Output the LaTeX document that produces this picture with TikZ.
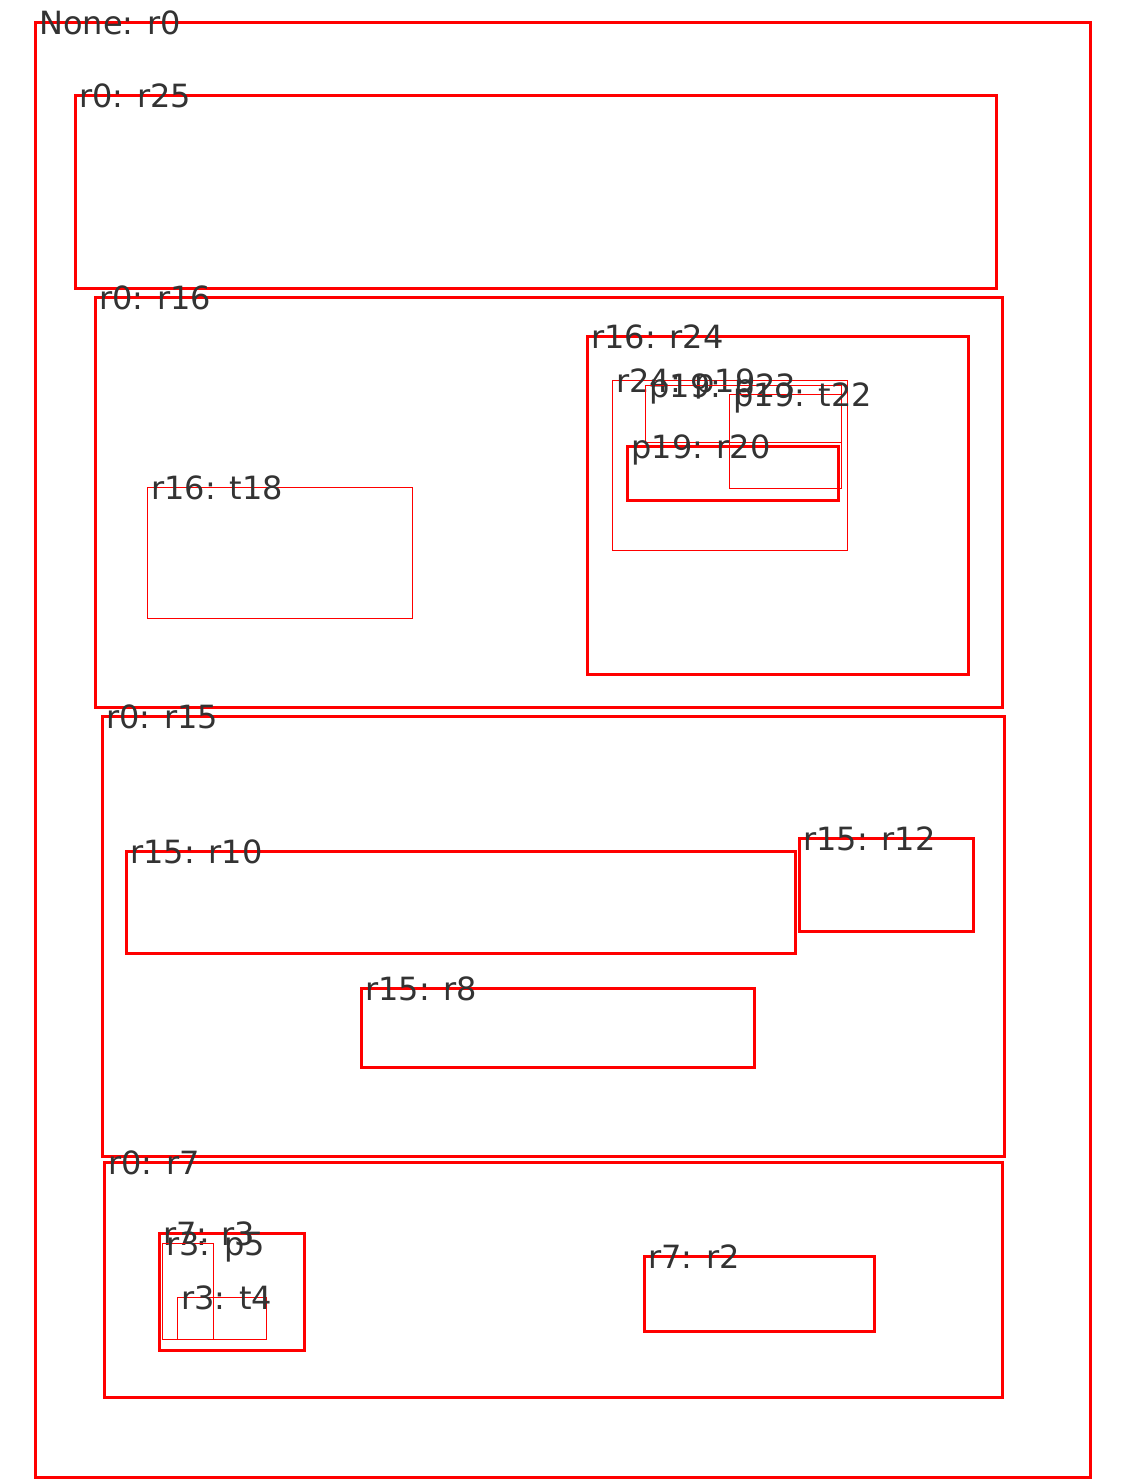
\documentclass[tikz,border=0pt]{standalone}
\usepackage{fontspec}
\setmainfont{DejaVu Sans}
\definecolor{boxred}{RGB}{255,0,0}
\definecolor{inkgray}{RGB}{51,51,51}
\tikzset{
  region/.style={draw=boxred, line width=1.5pt},
  leaf/.style={draw=boxred, line width=0.45pt},
  lbl/.style={anchor=base west, inner sep=0pt, text=inkgray,
              font=\fontsize{16}{18}\selectfont},
}
% \regionbox[style]{left}{top}{right}{bottom}{label}
\newcommand{\regionbox}[6][region]{%
  \draw[#1] (#2,#3) rectangle (#4,#5);
  \node[lbl] at ({#2+4},{#3+12}) {#6};
}
\begin{document}
\begin{tikzpicture}[x=0.5pt, y=-0.5pt]
\useasboundingbox (0,0) rectangle (1125,1482);
\fill[white] (0,0) rectangle (1125,1482);

% outer region
\regionbox{35}{23}{1090}{1477}{None: r0}

% first band
\regionbox{75}{96}{996}{288}{r0: r25}

% second band with its nested regions
\regionbox{95}{297}{1002}{707}{r0: r16}
\regionbox[leaf]{147}{487}{412}{618}{r16: t18}
\regionbox{587}{336}{968}{674}{r16: r24}
\regionbox[leaf]{612}{380}{847}{550}{r24: p19}
\regionbox[leaf]{645}{385}{841}{442}{p19: p23}
\regionbox[leaf]{729}{394}{841}{488}{p19: t22}
\regionbox{627}{446}{838}{500}{p19: r20}

% third band
\regionbox{102}{716}{1004}{1156}{r0: r15}
\regionbox{126}{851}{795}{953}{r15: r10}
\regionbox{799}{838}{973}{931}{r15: r12}
\regionbox{361}{988}{754}{1067}{r15: r8}

% fourth band
\regionbox{104}{1162}{1002}{1397}{r0: r7}
\regionbox{159}{1233}{304}{1350}{r7: r3}
\regionbox[leaf]{162}{1243}{213}{1339}{r3: p5}
\regionbox[leaf]{177}{1297}{266}{1339}{r3: t4}
\regionbox{644}{1256}{874}{1331}{r7: r2}
\end{tikzpicture}
\end{document}
